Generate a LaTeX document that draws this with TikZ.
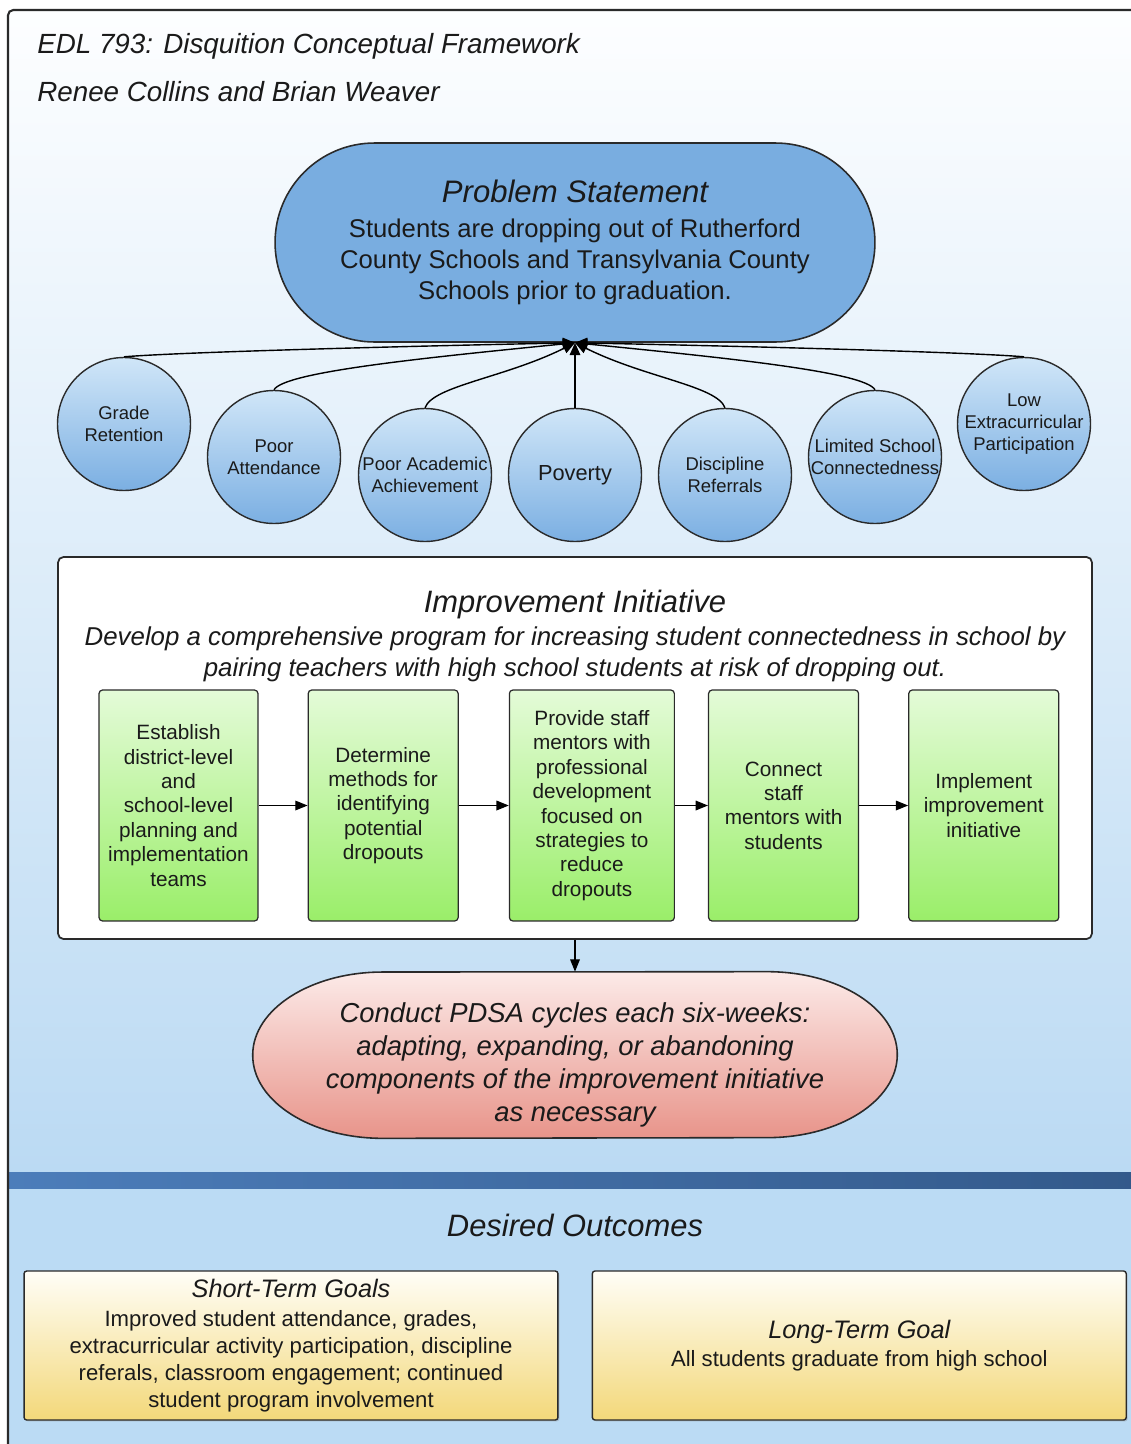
\documentclass[tikz,border=0pt]{standalone}
\usepackage{fontspec}
\setmainfont{Liberation Sans}
\usepackage{tikz}
\usepackage{xcolor}
\usetikzlibrary{positioning}
\usetikzlibrary{shapes.misc}
\usetikzlibrary{arrows.meta}
\usetikzlibrary{shadows}

\definecolor{pagetop}{HTML}{FDFEFF}
\definecolor{pagebot}{HTML}{BBDAF3}
\definecolor{outcomebg}{HTML}{BBDBF4}
\definecolor{barleft}{HTML}{4C7DBA}
\definecolor{barright}{HTML}{33598A}
\definecolor{problemblue}{HTML}{79ADE0}
\definecolor{factortop}{HTML}{D0E6F8}
\definecolor{factorbot}{HTML}{7BAFE2}
\definecolor{steptop}{HTML}{E4FBD8}
\definecolor{stepbot}{HTML}{9AEE69}
\definecolor{pdsatop}{HTML}{FCEAE8}
\definecolor{pdsabot}{HTML}{E8948A}
\definecolor{goaltop}{HTML}{FFFEF7}
\definecolor{goalbot}{HTML}{F3D87A}
\definecolor{edge}{HTML}{2A2A2A}
\definecolor{ink}{HTML}{1A1A1A}

\tikzstyle{heading}=[font=\fontsize{15.8}{19}\selectfont\itshape, text=ink, anchor=west, inner sep=0pt]
\tikzstyle{caption}=[font=\fontsize{17.6}{21}\selectfont\itshape, text=ink, inner sep=0pt]
\tikzstyle{problem}=[rounded rectangle, draw=edge, line width=0.9pt, fill=problemblue, minimum width=12cm, minimum height=3.98cm, inner sep=0pt, align=center, text=ink, font=\fontsize{14.6}{17.6}\selectfont]
\tikzstyle{factor}=[circle, draw=edge, line width=0.8pt, top color=factortop, bottom color=factorbot, minimum size=2.66cm, inner sep=0pt, align=center, text=ink, font=\fontsize{10.5}{12.5}\selectfont]
\tikzstyle{cause}=[-{Triangle[length=7pt,width=6pt]}, draw=black, line width=0.8pt]
\tikzstyle{panel}=[rectangle, rounded corners=3pt, draw=edge, line width=1pt, fill=white, minimum width=20.68cm, minimum height=7.64cm]
\tikzstyle{stepbox}=[rectangle, rounded corners=2pt, draw=edge, line width=0.7pt, top color=steptop, bottom color=stepbot, minimum height=4.62cm, inner sep=0pt, align=center, text=ink, font=\fontsize{11.8}{13.9}\selectfont]
\tikzstyle{flow}=[-{Triangle[length=7pt,width=5.5pt]}, draw=black, line width=0.7pt]
\tikzstyle{pdsa}=[rectangle, minimum width=12.88cm, minimum height=3.32cm, inner sep=0pt]
\tikzstyle{pdsaline}=[draw=edge, line width=0.9pt, top color=pdsatop, bottom color=pdsabot]
\tikzstyle{pdsatext}=[inner sep=0pt, align=center, text=ink, font=\fontsize{15.6}{18.8}\selectfont\itshape]
\tikzstyle{goal}=[rectangle, rounded corners=1.5pt, draw=edge, line width=0.8pt, top color=goaltop, bottom color=goalbot, minimum width=10.68cm, minimum height=2.98cm, inner sep=0pt, align=center, text=ink, font=\fontsize{12.6}{15.4}\selectfont, drop shadow={shadow xshift=0.8pt, shadow yshift=-0.8pt, opacity=0.35}]

\begin{document}
\begin{tikzpicture}[x=0.02cm, y=-0.02cm, node distance=1cm]
    \useasboundingbox (0,0) rectangle (1130,1444);

    \shade[top color=pagetop, bottom color=pagebot] (8,10) rectangle (1140,1172);
    \fill[outcomebg] (8,1188) rectangle (1140,1450);
    \shade[left color=barleft, right color=barright] (8,1172) rectangle (1140,1188);
    \draw[edge, line width=1.2pt, rounded corners=3pt] (1140,10) -- (8,10) -- (8,1450);

    \node[heading] (course)  at (37,46) {EDL 793: Disquition Conceptual Framework};
    \node[heading] (authors) at (37,92) {Renee Collins and Brian Weaver};

    \node[problem] (problem) at (575,242.5) {{\fontsize{17.7}{20}\selectfont\itshape Problem Statement}\\[2.3pt]
      Students are dropping out of Rutherford\\County Schools and Transylvania County\\Schools prior to graduation.};

    \node[factor]  (retention)       at (124,424)  {Grade\\Retention};
    \node[factor]  (attendance)      at (274,457)  {Poor\\Attendance};
    \node[factor]  (achievement)     at (425,475)  {Poor Academic\\Achievement};
    \node[factor, font=\fontsize{12.4}{14}\selectfont] (poverty) at (575,475) {Poverty};
    \node[factor]  (discipline)      at (725,475)  {Discipline\\Referrals};
    \node[factor]  (connectedness)   at (875,457)  {Limited School\\Connectedness};
    \node[factor]  (extracurricular) at (1024,424) {Low\\Extracurricular\\Participation};

    \draw[cause] (retention.north)       .. controls +(60,-5)  and +(-150,3)  .. (problem.south);
    \draw[cause] (attendance.north)      .. controls +(10,-18) and +(-150,15) .. (problem.south);
    \draw[cause] (achievement.north)     .. controls +(8,-22)  and +(-70,35)  .. (problem.south);
    \draw[cause] (poverty.north)         -- (problem.south);
    \draw[cause] (discipline.north)      .. controls +(-8,-22) and +(70,35)   .. (problem.south);
    \draw[cause] (connectedness.north)   .. controls +(-10,-18) and +(150,15) .. (problem.south);
    \draw[cause] (extracurricular.north) .. controls +(-60,-5) and +(150,3)   .. (problem.south);

    \node[panel]   (initiative) at (575,748) {};
    \node[caption] (inittitle)  at (575,604) {Improvement Initiative};
    \node[caption, font=\fontsize{14.7}{17.6}\selectfont\itshape, align=center] (initdesc) at (575,654.5)
      {Develop a comprehensive program for increasing student connectedness in school by\\pairing teachers with high school students at risk of dropping out.};

    \node[stepbox, minimum width=3.18cm] (teams)     at (178.5,805.5)           {Establish\\district-level\\and\\school-level\\planning and\\implementation\\teams};
    \node[stepbox, minimum width=3cm]    (methods)   [right=0.98cm of teams]    {Determine\\methods for\\identifying\\potential\\dropouts};
    \node[stepbox, minimum width=3.3cm]  (training)  [right=1cm of methods]     {Provide staff\\mentors with\\professional\\development\\focused on\\strategies to\\reduce\\dropouts};
    \node[stepbox, minimum width=3cm]    (pairing)   [right=0.66cm of training] {Connect\\staff\\mentors with\\students};
    \node[stepbox, minimum width=3cm]    (implement) [right=0.98cm of pairing]  {Implement\\improvement\\initiative};

    \draw[flow] (teams)    -- (methods);
    \draw[flow] (methods)  -- (training);
    \draw[flow] (training) -- (pairing);
    \draw[flow] (pairing)  -- (implement);

    \node[pdsa] (pdsa) at (575,1055) {};
    \shade[pdsaline] (pdsa.west) arc[start angle=180, end angle=90, x radius=2.6cm, y radius=1.66cm]
      -- ([xshift=-2.6cm]pdsa.north east) arc[start angle=90, end angle=-90, x radius=2.6cm, y radius=1.66cm]
      -- ([xshift=2.6cm]pdsa.south west) arc[start angle=270, end angle=180, x radius=2.6cm, y radius=1.66cm] -- cycle;
    \node[pdsatext] (pdsatext) at (575,1065) {Conduct PDSA cycles each six-weeks:\\adapting, expanding, or abandoning\\components of the improvement initiative\\as necessary};
    \draw[flow] (initiative) -- (pdsa);

    \node[caption] (outcomes) at (575,1225) {Desired Outcomes};
    \node[goal] (shortterm) at (291,1345.5) {{\fontsize{14.4}{17}\selectfont\itshape Short-Term Goals}\\[0.8pt]
      Improved student attendance, grades,\\extracurricular activity participation, discipline\\referals, classroom engagement; continued\\student program involvement};
    \node[goal] (longterm) [right=0.66cm of shortterm] {{\fontsize{14.4}{17}\selectfont\itshape Long-Term Goal}\\[0.5pt]
      All students graduate from high school};
\end{tikzpicture}
\end{document}
